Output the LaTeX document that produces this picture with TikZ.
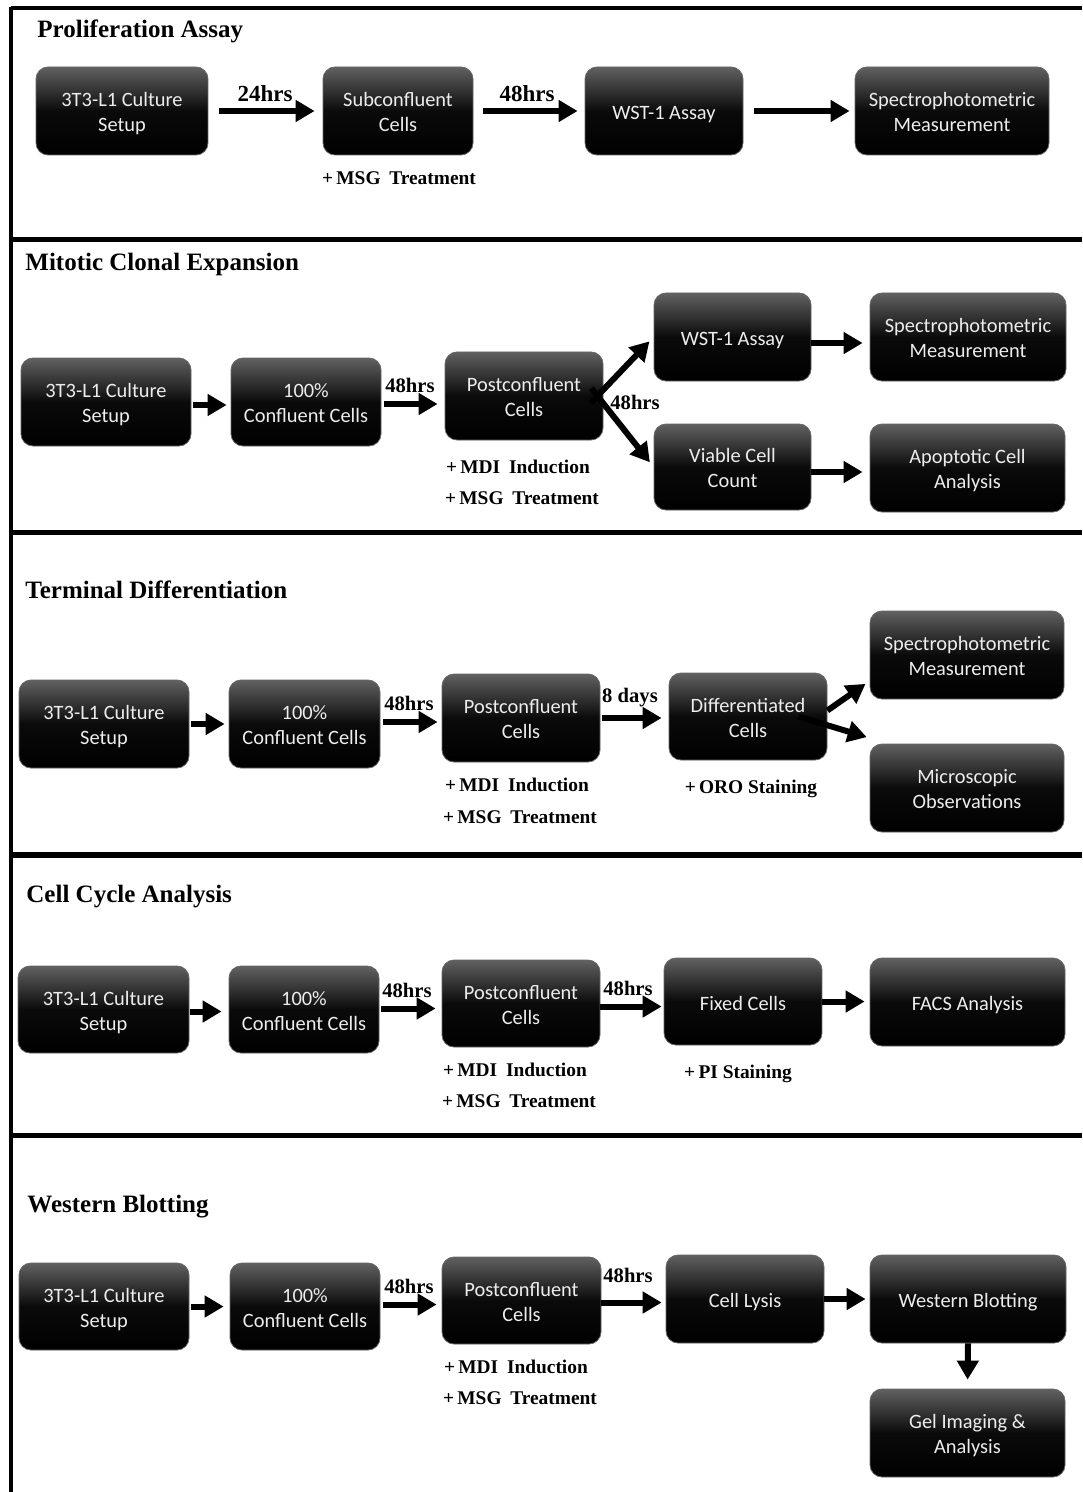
\documentclass[tikz,border=0pt]{standalone}
\usepackage{fontspec}
\setmainfont{Liberation Serif}
\newfontfamily\boxfont{Carlito}
\usetikzlibrary{arrows.meta,calc}
\tikzset{
  box/.style={rounded corners=6pt, draw=black!60, line width=0.4pt,
    top color=black!62, bottom color=black, middle color=black!96,
    align=center, text=white!93!black, inner sep=0pt,
    font=\boxfont\fontsize{10.2}{12.5}\selectfont},
  two/.style={text height=20.6pt, text depth=0pt},
  one/.style={text height=8.5pt, text depth=0pt},
  arr/.style={line width=3pt, -{Triangle[length=9.5pt,width=10.5pt]}},
  sep/.style={line width=2.75pt},
  ttl/.style={font=\bfseries\fontsize{12.5}{15}\selectfont, anchor=base west, inner sep=0pt},
  tlab/.style={font=\bfseries\fontsize{10.3}{12}\selectfont, anchor=base, inner sep=0pt},
  tlabbig/.style={font=\bfseries\fontsize{11.5}{13}\selectfont, anchor=base, inner sep=0pt},
  note/.style={font=\bfseries\fontsize{9.7}{12}\selectfont, anchor=base, inner sep=0pt},
}
% optional #1: text placement style (two lines / one line)
\newcommand\mybox[7][two]{\node[box, #1, minimum width=#5*0.5pt, minimum height=#6*0.5pt] (#2) at (#3,#4) {#7};}
\begin{document}
\begin{tikzpicture}[x=0.5pt,y=-0.5pt]
\useasboundingbox[fill=white] (0,0) rectangle (1082,1492);
% frame
\draw[line width=2pt] (11,8.5) -- (1082,8.5);
\draw[line width=1.75pt] (11,7.5) -- (11,1492);
\foreach \yy in {239.5,532.5,855,1135.5} \draw[sep] (11,\yy) -- (1082,\yy);

% ---------- Proliferation Assay
\node[ttl] (t1) at (37,38) {Proliferation Assay};
\mybox{pa}{122}{111}{172}{88}{3T3-L1 Culture\\Setup}
\mybox{pb}{398}{111}{150}{88}{Subconfluent\\Cells}
\mybox[one]{pc}{664}{111}{158}{88}{WST-1 Assay}
\mybox{pd}{952}{111}{194}{88}{Spectrophotometric\\Measurement}
\draw[arr, shorten <=5.5pt, shorten >=4pt] (pa.east) -- (pb.west);
\draw[arr, shorten <=5pt, shorten >=3.5pt] (pb.east) -- (pc.west);
\draw[arr, shorten <=5.5pt, shorten >=2.5pt] (pc.east) -- (pd.west);
\node[tlabbig] (l11) at (265,102) {24hrs};
\node[tlabbig] (l12) at (527,102) {48hrs};
\node[note] (n11) at (399,185) {+\,MSG\hspace{0.45em}Treatment};

% ---------- Mitotic Clonal Expansion
\node[ttl] (t2) at (25,271) {Mitotic Clonal Expansion};
\mybox{ma}{106}{402}{170}{88}{3T3-L1 Culture\\Setup}
\mybox{mb}{306}{402}{150}{88}{100\%\\Confluent Cells}
\mybox{mc}{524}{396}{158}{88}{Postconfluent\\Cells}
\mybox[one]{md}{732.5}{337}{157}{88}{WST-1 Assay}
\mybox{me}{968}{337}{196}{88}{Spectrophotometric\\Measurement}
\mybox{mf}{732.5}{467}{157}{86}{Viable Cell\\Count}
\mybox{mg}{967.5}{468}{195}{88}{Apoptotic Cell\\Analysis}
\draw[arr, shorten <=1pt, shorten >=2pt] ([yshift=-1.5pt]ma.east) -- ([yshift=-1.5pt]ma.east -| mb.west);
\draw[arr, shorten <=1.5pt, shorten >=3.5pt] ([yshift=-1pt]mb.east) -- ([yshift=-1pt]mb.east -| mc.west);
\draw[arr, shorten <=-5pt, shorten >=3pt] ([xshift=-3pt]mc.east) -- (md.west);
\draw[arr, shorten <=-5pt, shorten >=3pt] ([xshift=-3pt]mc.east) -- (mf.west);
\draw[arr, shorten >=3.5pt] ([yshift=-3pt]md.east) -- ([yshift=-3pt]md.east -| me.west);
\draw[arr, shorten >=3.5pt] ([yshift=-2.5pt]mf.east) -- ([yshift=-2.5pt]mf.east -| mg.west);
\node[tlab] (l21) at (410,392) {48hrs};
\node[tlab] (l22) at (635,409) {48hrs};
\node[note] (n21) at (518,473) {+\,MDI\hspace{0.45em}Induction};
\node[note] (n22) at (522,504) {+\,MSG\hspace{0.45em}Treatment};

% ---------- Terminal Differentiation
\node[ttl] (t3) at (25,598) {Terminal Differentiation};
\mybox{ta}{104}{724}{170}{88}{3T3-L1 Culture\\Setup}
\mybox{tb}{304.5}{724}{151}{88}{100\%\\Confluent Cells}
\mybox{tc}{521}{718}{158}{88}{Postconfluent\\Cells}
\mybox{td}{748}{716.5}{158}{87}{Differentiated\\Cells}
\mybox{te}{967}{655}{194}{88}{Spectrophotometric\\Measurement}
\mybox{tf}{967}{788}{194}{88}{Microscopic\\Observations}
\draw[arr, shorten <=1pt, shorten >=2pt] (ta.east) -- (ta.east -| tb.west);
\draw[arr, shorten <=1.5pt, shorten >=2pt] ([yshift=1pt]tb.east) -- ([yshift=1pt]tb.east -| tc.west);
\draw[arr, shorten <=1pt, shorten >=3.5pt] (tc.east) -- (tc.east -| td.west);
\draw[arr, shorten >=2.5pt] ([yshift=3pt]td.east) -- ([yshift=-13pt]te.west);
\draw[arr, shorten >=1.5pt] ([xshift=-14.5pt]td.east) -- ([yshift=25pt]tf.west);
\node[tlab] (l31) at (409,710) {48hrs};
\node[tlab] (l32) at (630,702) {8 days};
\node[note] (n31) at (517,791) {+\,MDI\hspace{0.45em}Induction};
\node[note] (n32) at (520,823) {+\,MSG\hspace{0.45em}Treatment};
\node[note] (n33) at (751,793) {+\,ORO Staining};

% ---------- Cell Cycle Analysis
\node[ttl] (t4) at (26,902) {Cell Cycle Analysis};
\mybox{ca}{103.5}{1009.5}{171}{87}{3T3-L1 Culture\\Setup}
\mybox{cb}{304}{1009.5}{150}{87}{100\%\\Confluent Cells}
\mybox{cc}{521}{1003.5}{158}{87}{Postconfluent\\Cells}
\mybox[one]{cd}{743}{1001.5}{158}{87}{Fixed Cells}
\mybox[one]{ce}{967.5}{1002}{195}{88}{FACS Analysis}
\draw[arr, shorten <=0.5pt, shorten >=3.5pt] ([yshift=-1pt]ca.east) -- ([yshift=-1pt]ca.east -| cb.west);
\draw[arr, shorten <=1pt, shorten >=3pt] ([yshift=0.5pt]cb.east) -- ([yshift=0.5pt]cb.east -| cc.west);
\draw[arr, shorten >=1pt] ([yshift=-1.5pt]cc.east) -- ([yshift=-1.5pt]cc.east -| cd.west);
\draw[arr, shorten >=2.5pt] (cd.east) -- (cd.east -| ce.west);
\node[tlab] (l41) at (407,997) {48hrs};
\node[tlab] (l42) at (628,995) {48hrs};
\node[note] (n41) at (515,1076) {+\,MDI\hspace{0.45em}Induction};
\node[note] (n42) at (519,1107) {+\,MSG\hspace{0.45em}Treatment};
\node[note] (n43) at (738,1078) {+\,PI Staining};

% ---------- Western Blotting
\node[ttl] (t5) at (27,1212) {Western Blotting};
\mybox{wa}{104}{1306.5}{170}{87}{3T3-L1 Culture\\Setup}
\mybox{wb}{305}{1306.5}{150}{87}{100\%\\Confluent Cells}
\mybox{wc}{521.5}{1300.5}{159}{87}{Postconfluent\\Cells}
\mybox[one]{wd}{745}{1299}{158}{88}{Cell Lysis}
\mybox[one]{we}{968}{1299}{196}{88}{Western Blotting}
\mybox{wf}{967.5}{1433}{195}{88}{Gel Imaging \&\\Analysis}
\draw[arr, shorten <=1pt, shorten >=3pt] (wa.east) -- (wa.east -| wb.west);
\draw[arr, shorten <=1.5pt, shorten >=2.5pt] ([yshift=1pt]wb.east) -- ([yshift=1pt]wb.east -| wc.west);
\draw[arr, shorten >=2pt] ([yshift=-1pt]wc.east) -- ([yshift=-1pt]wc.east -| wd.west);
\draw[arr, shorten >=2pt] (wd.east) -- (wd.east -| we.west);
\draw[arr, shorten >=4.5pt] (we.south) -- (wf.north);
\node[tlab] (l51) at (409,1293) {48hrs};
\node[tlab] (l52) at (628,1282) {48hrs};
\node[note] (n51) at (516,1373) {+\,MDI\hspace{0.45em}Induction};
\node[note] (n52) at (520,1404) {+\,MSG\hspace{0.45em}Treatment};
\end{tikzpicture}
\end{document}
